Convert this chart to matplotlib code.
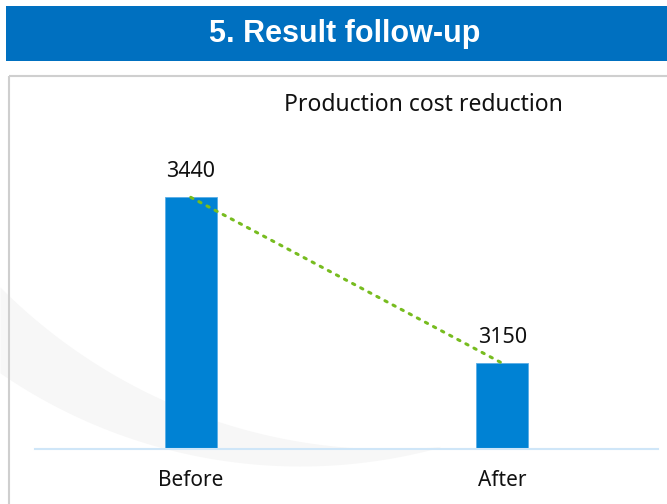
import numpy as np
import matplotlib.pyplot as plt
from matplotlib.patches import Rectangle

# chart data
categories = ["Before", "After"]
cost = [3440, 3150]

W, H = 667, 504
fig = plt.figure(figsize=(W / 100, H / 100), dpi=100)

# background layer in pixel coords (header band, frame, faint swoosh)
bg = fig.add_axes([0, 0, 1, 1], zorder=0)
bg.set_xlim(0, W)
bg.set_ylim(H, 0)
bg.axis("off")

# faint crescent behind the chart
xs = np.linspace(0, 440, 300)
y_low = -64 + np.sqrt(530**2 - (xs - 300)**2)
y_up = -100.8 + np.sqrt(549.6**2 - (xs - 389.5)**2)
bg.fill_between(xs, y_up, y_low, where=y_up < y_low, color="#f7f7f7", lw=0)

bg.add_patch(Rectangle((6, 6), W, 55, color="#0070c0", lw=0))
bg.text(345, 34, "5. Result follow-up", color="white", fontsize=22,
        fontweight="bold", family="Liberation Sans", ha="center", va="center")
bg.add_patch(Rectangle((8.5, 75.5), W, H, fill=False, edgecolor="#cfcfcf", lw=1.5))

# chart axes
ax = fig.add_axes([35 / W, (H - 449) / H, 623 / W, 286 / H], zorder=1)
ax.patch.set_alpha(0)
x = np.arange(len(categories))
ax.bar(x, cost, width=0.167, color="#0082d4", edgecolor="#5aaee6",
       linewidth=0.6, zorder=2)
ax.plot(x, cost, color="#77bc1f", lw=2.2, linestyle=(0, (0.8, 2.2)),
        dash_capstyle="round", zorder=3)
for xi, v in zip(x, cost):
    ax.text(xi, v + 35, str(v), ha="center", va="baseline", fontsize=15.5,
            family="Noto Sans", color="#111111")

ax.set_xlim(-0.5, 1.5)
ax.set_ylim(3000, 3500)
ax.set_yticks([])
ax.set_xticks(x)
ax.set_xticklabels(categories, fontsize=15, family="Noto Sans", color="#111111")
ax.tick_params(axis="x", length=0, pad=15)
for s in ["top", "right", "left"]:
    ax.spines[s].set_visible(False)
ax.spines["bottom"].set_color("#cfe6f8")
ax.spines["bottom"].set_linewidth(1.5)

fig.text(423 / W, 1 - 105 / H, "Production cost reduction", fontsize=16.5,
         family="Noto Sans", ha="center", va="center", color="#111111")

fig.savefig("out.png", dpi=100)
